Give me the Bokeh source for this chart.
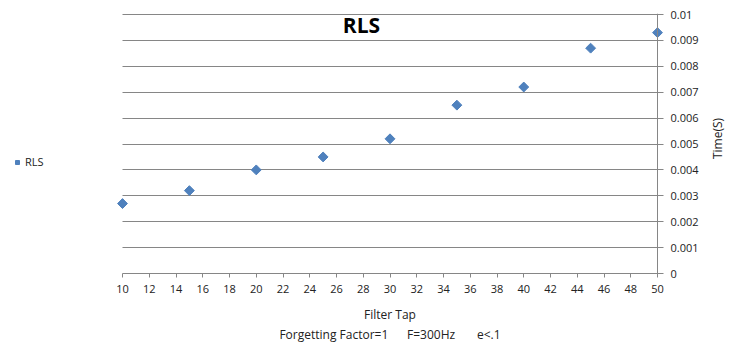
from math import pi
from bokeh.plotting import figure
from bokeh.layouts import row
from bokeh.models import Range1d, LinearAxis, FixedTicker, Legend, LegendItem, Label, Span
from bokeh.embed import file_html
from bokeh.resources import INLINE

filter_tap = [10, 15, 20, 25, 30, 35, 40, 45, 50]
rls_time = [0.0027, 0.0032, 0.0040, 0.0045, 0.0052, 0.0065, 0.0072, 0.0087, 0.0093]
x_ticks = list(range(10, 51, 2))
y_ticks = [0, 0.001, 0.002, 0.003, 0.004, 0.005, 0.006, 0.007, 0.008, 0.009, 0.01]
y_tick_labels = ["0", "0.001", "0.002", "0.003", "0.004", "0.005", "0.006", "0.007", "0.008", "0.009", "0.01"]

FONT = "Open Sans"
GRID = "#868686"
BLUE = "#4F81BD"
TXT = "#222222"
NB = "\u00a0"
H = 347
FRAME_BOTTOM = 273  # pixel row of the shared frame bottom

# layout: the data span 10..50 covers 535 px; the frame is padded by 6 px on each
# side so the end markers are not clipped; 1 px on top so the top grid line shows
PAD_PX = 6
SPAN_PX = 535
YSPAN_PX = 259
x0, x1 = x_ticks[0], x_ticks[-1]
y0, y1 = y_ticks[0], y_ticks[-1]
pad = PAD_PX * (x1 - x0) / SPAN_PX
xr = Range1d(x0 - pad, x1 + pad)
yr = Range1d(y0, y1 + (y1 - y0) / YSPAN_PX)

# ---------- main chart ----------
p = figure(width=593, height=H, output_backend="svg", toolbar_location=None,
           x_range=xr, y_range=yr,
           min_border_left=6, min_border_right=40, min_border_top=13, min_border_bottom=74,
           outline_line_color=None, background_fill_color="white", border_fill_color="white")

p.yaxis.visible = False
p.xgrid.visible = False
p.ygrid.ticker = FixedTicker(ticks=y_ticks)
p.ygrid.grid_line_color = GRID
p.ygrid.grid_line_width = 1
if "cross_bounds" in p.ygrid.properties():
    p.ygrid.cross_bounds = (x0, x1)

xa = p.xaxis[0]
xa.bounds = (x0, x1)
xa.ticker = FixedTicker(ticks=x_ticks)
xa.axis_line_color = GRID
xa.major_tick_line_color = GRID
xa.major_tick_out = 4
xa.major_tick_in = 0
xa.minor_tick_line_color = None
xa.major_label_text_font = FONT
xa.major_label_text_font_size = "11px"
xa.major_label_text_color = TXT
xa.major_label_standoff = 7
xa.axis_label = "Filter Tap\nForgetting Factor=1" + NB * 6 + "F=300Hz" + NB * 7 + "e<.1"
xa.axis_label_text_font = FONT
xa.axis_label_text_font_size = "12px"
xa.axis_label_text_font_style = "normal"
xa.axis_label_text_color = TXT
xa.axis_label_standoff = 10

ya = LinearAxis(ticker=FixedTicker(ticks=y_ticks), bounds=(y0, y1),
                major_label_overrides={t: l for t, l in zip(y_ticks, y_tick_labels)})
ya.axis_line_color = None
ya.major_tick_line_color = GRID
ya.major_tick_out = 0
ya.major_tick_in = PAD_PX + 4
ya.minor_tick_line_color = None
ya.major_label_text_font = FONT
ya.major_label_text_font_size = "11px"
ya.major_label_text_color = TXT
ya.major_label_standoff = 7
p.add_layout(ya, "right")

# visible vertical axis line at the end of the data span
p.add_layout(Span(location=x1, dimension="height", line_color=GRID, line_width=1))

r = p.scatter(filter_tap, rls_time, marker="square", size=7, angle=pi / 4,
              fill_color=BLUE, line_color=BLUE)

title = Label(x=245, y=FRAME_BOTTOM - 24, x_units="screen", y_units="screen", text="RLS",
              text_font=FONT, text_font_size="21px", text_font_style="bold",
              text_color="#000000", text_align="center", text_baseline="middle")
p.add_layout(title)

# ---------- left legend panel ----------
lf = figure(width=110, height=H, output_backend="svg", toolbar_location=None,
            x_range=Range1d(0, 1), y_range=Range1d(0, 1), x_axis_type=None, y_axis_type=None,
            min_border=0, outline_line_color=None, background_fill_color="white",
            border_fill_color="white")
lf.xgrid.visible = False
lf.ygrid.visible = False
# same series (outside this panel's ranges, so only its legend swatch shows)
lr = lf.scatter(filter_tap, rls_time, marker="square", size=7, angle=pi / 4,
                fill_color=BLUE, line_color=BLUE)
legend = Legend(items=[LegendItem(label="RLS", renderers=[lr])],
                location=(12, FRAME_BOTTOM - 169), border_line_color=None,
                background_fill_alpha=0, label_text_font=FONT,
                label_text_font_size="11px", label_text_color=TXT,
                glyph_width=10, glyph_height=12, label_standoff=3, padding=4, margin=0)
lf.add_layout(legend, "center")

# ---------- right axis-title panel ----------
rf = figure(width=23, height=H, output_backend="svg", toolbar_location=None,
            x_range=Range1d(0, 1), y_range=Range1d(0, 1), x_axis_type=None, y_axis_type=None,
            min_border=0, outline_line_color=None, background_fill_color="white",
            border_fill_color="white")
rf.xgrid.visible = False
rf.ygrid.visible = False
ylab = Label(x=14, y=FRAME_BOTTOM - 138, x_units="screen", y_units="screen", text="Time(S)",
             angle=pi / 2, text_font=FONT, text_font_size="12px", text_color=TXT,
             text_align="center", text_baseline="middle")
rf.add_layout(ylab)

layout = row(lf, p, rf, spacing=0)
open("out.html", "w").write(file_html(layout, INLINE))
